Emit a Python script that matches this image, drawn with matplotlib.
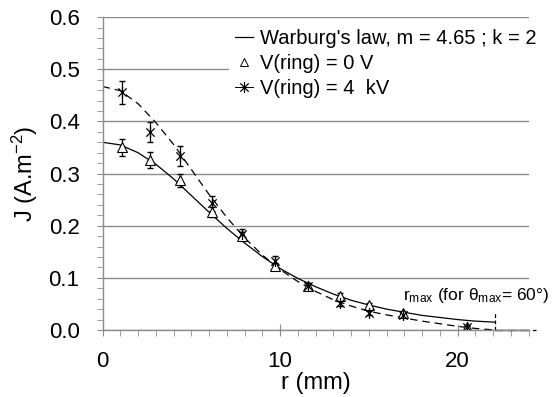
import numpy as np
import matplotlib
matplotlib.use('Agg')
import matplotlib.pyplot as plt
from matplotlib.lines import Line2D
from matplotlib.path import Path
from matplotlib.ticker import MultipleLocator, FormatStrFormatter

plt.rcParams['font.family'] = ['Liberation Sans', 'DejaVu Sans']
plt.rcParams['mathtext.fontset'] = 'custom'
plt.rcParams['mathtext.rm'] = 'Liberation Sans'
plt.rcParams['mathtext.it'] = 'Liberation Sans:italic'

# measured points (r in mm, J in A.m-2)
r_pts = [1.08, 2.68, 4.37, 6.15, 7.86, 9.72, 11.58, 13.38, 15.0, 16.93, 20.52]
j_0V = [0.350, 0.326, 0.287, 0.226, 0.180, 0.122, 0.085, 0.066, 0.048, 0.032, 0.006]
err_0V = [0.017, 0.016, 0.013, 0.010, 0.008, 0.006, 0.005, 0.005, 0.004, 0.004, 0.003]
j_4kV = [0.456, 0.379, 0.333, 0.243, 0.184, 0.133, 0.085, 0.051, 0.033, 0.028, 0.005]
err_4kV = [0.022, 0.019, 0.019, 0.014, 0.010, 0.008, 0.006, 0.005, 0.004, 0.004, 0.003]

# Warburg curves
r_fit = [0, 1, 2, 3, 4, 5, 6, 7, 8, 9, 10, 11, 12, 13, 14, 15, 16, 17, 18, 19, 20, 21, 22.1]
fit_0V = [0.360, 0.355, 0.340, 0.318, 0.290, 0.258, 0.226, 0.195, 0.167, 0.141, 0.118,
          0.099, 0.083, 0.069, 0.057, 0.048, 0.040, 0.034, 0.028, 0.024, 0.020, 0.017, 0.015]
fit_4kV = [0.467, 0.459, 0.434, 0.398, 0.356, 0.308, 0.260, 0.216, 0.177, 0.144, 0.116,
           0.093, 0.074, 0.058, 0.046, 0.036, 0.029, 0.023, 0.017, 0.012, 0.007, 0.003, 0.0]
r_max = 22.1
r_tail_0V = [22.1, 24.0]
r_tail_4kV = [22.1, 24.4]

grey = '#8c8c8c'

# asterisk marker: vertical bar + X
star = Path([(0, -1), (0, 1), (-0.75, -0.75), (0.75, 0.75), (-0.75, 0.75), (0.75, -0.75)],
            [Path.MOVETO, Path.LINETO, Path.MOVETO, Path.LINETO, Path.MOVETO, Path.LINETO])

fig = plt.figure(figsize=(5.59, 3.97), dpi=100)
ax = fig.add_axes([0.1834, 0.1688, 0.7621, 0.788])

ax.plot(r_fit, fit_0V, color='k', lw=0.9)
ax.plot(r_tail_0V, [0, 0], color='k', lw=0.9, clip_on=False)
ax.plot(r_fit, fit_4kV, color='k', lw=0.9, dashes=(6, 4))
ax.plot(r_tail_4kV, [0, 0], color='k', lw=0.9, dashes=(6, 4), clip_on=False)

ax.errorbar(r_pts, j_0V, yerr=err_0V, fmt='none', ecolor='k', elinewidth=0.9, capsize=2.5)
ax.errorbar(r_pts, j_4kV, yerr=err_4kV, fmt='none', ecolor='k', elinewidth=0.9, capsize=2.5)
ax.plot(r_pts, j_0V, ls='none', marker='^', ms=7, mfc='white', mec='k', mew=0.8)
ax.plot(r_pts, j_4kV, ls='none', marker=star, ms=8, mec='k', mew=0.9)

# r_max marker
ax.plot([r_max, r_max], [0, 0.035], color='k', lw=0.9, dashes=(3, 2))
ax.text(16.93, 0.0575, r'r$_{\mathregular{max}}$ (for $\mathregular{θ}_{\mathregular{max}}$= 60°)',
        fontsize=12.5, va='baseline', ha='left', clip_on=False)

ax.set_xlim(0, 24)
ax.set_ylim(0, 0.6)
ax.xaxis.set_major_locator(MultipleLocator(10))
ax.xaxis.set_minor_locator(MultipleLocator(1))
ax.yaxis.set_major_locator(MultipleLocator(0.1))
ax.yaxis.set_minor_locator(MultipleLocator(0.02))
ax.yaxis.set_major_formatter(FormatStrFormatter('%.1f'))
ax.yaxis.grid(True, color=grey, lw=1)
ax.set_axisbelow(True)

for s in ['top', 'right']:
    ax.spines[s].set_visible(False)
for s in ['left', 'bottom']:
    ax.spines[s].set_color(grey)
    ax.spines[s].set_linewidth(1)

ax.tick_params(axis='x', which='major', direction='inout', length=8, color=grey, labelsize=16, pad=11)
ax.tick_params(axis='x', which='minor', direction='out', length=4, color=grey)
ax.tick_params(axis='y', which='major', direction='out', length=4.5, color=grey, labelsize=16, pad=12)
ax.tick_params(axis='y', which='minor', direction='out', length=4, color=grey)

ax.set_xlabel('r (mm)', fontsize=17, labelpad=0)
ax.set_ylabel(r'J (A.m$^{\mathregular{-2}}$)', fontsize=17, labelpad=6)

handles = [Line2D([], [], color='k', lw=0.9),
           Line2D([], [], ls='none', marker='^', ms=6, mfc='white', mec='k', mew=0.7),
           Line2D([], [], color='k', lw=0.7, marker=star, ms=8, mew=0.9)]
labels = ["Warburg's law, m = 4.65 ; k = 2", 'V(ring) = 0 V', 'V(ring) = 4  kV']
leg = ax.legend(handles, labels, loc='upper left', bbox_to_anchor=(0.274, 1.015),
                fontsize=14.5, handlelength=0.9, handletextpad=0.3, labelspacing=0.3,
                borderpad=0.3, frameon=True, fancybox=False, framealpha=1)
leg.get_frame().set_edgecolor('none')
leg.get_frame().set_facecolor('white')

fig.savefig('out.png', dpi=100)
